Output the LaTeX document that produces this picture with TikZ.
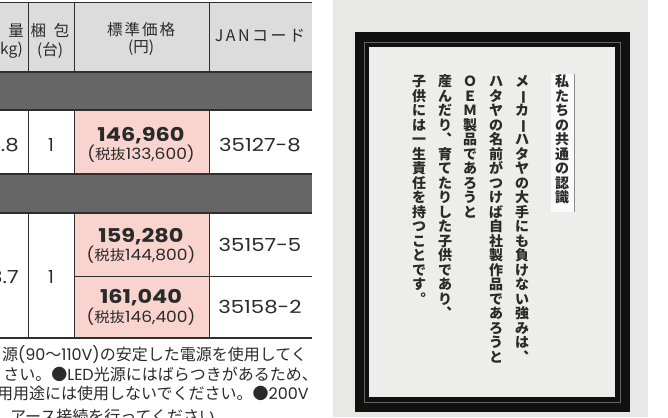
\documentclass[tikz,border=0pt]{standalone}
\usepackage{fontspec}
\newfontfamily\jp{Noto Sans CJK JP}
\newfontfamily\numf{Poppins}
\newfontfamily\vmin{Noto Sans CJK JP}
\definecolor{hdrc}{HTML}{DCDCDD}
\definecolor{bandc}{HTML}{666666}
\definecolor{pinkc}{HTML}{F9D4CF}
\definecolor{linec}{HTML}{2E2E2E}
\definecolor{txtc}{HTML}{2A2A2A}
\definecolor{wallc}{HTML}{E8E8E6}
\definecolor{paperc}{HTML}{EDEDEC}
\definecolor{framec}{HTML}{111111}
\makeatletter
\newcommand\vlong{\rotatebox[origin=c]{-90}{ー}}
\newcommand\vcol[1]{\vbox{\offinterlineskip\@tfor\vc@ch:=#1\do{\hbox to 15pt{\hss\vrule width0pt height11.5pt depth3pt\smash{\vc@ch}\hss}}}}
\makeatother
\newcommand\wide[1]{\scalebox{1.18}[1]{#1}}
\newcommand\lat[1]{{\numf #1}}
\begin{document}
\begin{tikzpicture}[x=1pt,y=-1pt,
  hline/.style={draw=linec,line width=1.4pt},
  thinl/.style={draw=linec,line width=0.9pt},
  hdrtxt/.style={inner sep=0pt,text=txtc,font=\jp\fontsize{15.5}{16}\selectfont},
  valtxt/.style={inner sep=0pt,text=txtc,font=\numf\fontsize{18}{18}\selectfont},
  pricetxt/.style={inner sep=0pt,text=txtc,font=\numf\bfseries\fontsize{19}{19}\selectfont},
  taxtxt/.style={inner sep=0pt,text=txtc,font=\numf\fontsize{15.5}{15.5}\selectfont},
  notetxt/.style={inner sep=0pt,text=txtc,font=\jp\fontsize{16}{16}\selectfont},
  vtxt/.style={inner sep=0pt,anchor=north,text=txtc,font=\vmin\bfseries\fontsize{14}{14}\selectfont}]
\useasboundingbox (0,0) rectangle (668,417);
% ---------------- left: table ----------------
\begin{scope}
\clip (0,0) rectangle (330,417);
\fill[hdrc] (0,2) rectangle (312,72);
\fill[bandc] (0,72) rectangle (312,110);
\fill[bandc] (0,174) rectangle (312,213);
\fill[pinkc] (74,110) rectangle (209,174);
\fill[pinkc] (74,213) rectangle (209,338);
% vertical lines
\foreach \x in {28,74,209}{
  \draw[thinl] (\x,2) -- (\x,72);
  \draw[thinl] (\x,110) -- (\x,174);
  \draw[thinl] (\x,213) -- (\x,338);
}
% horizontal lines
\draw[thinl] (0,2) -- (312,2);
\draw[hline] (0,72) -- (312,72);
\draw[hline] (0,110) -- (312,110);
\draw[hline] (0,174) -- (312,174);
\draw[hline] (0,213) -- (312,213);
\draw[thinl] (74,276) -- (312,276);
\draw[hline] (0,338) -- (312,338);
% header
\node[hdrtxt,anchor=east] (h1a) at (24,31) {質\hspace{10pt}量};
\node[hdrtxt,anchor=east] (h1b) at (23,50) {(kg)};
\node[hdrtxt] (h2a) at (50,31) {梱\hspace{8pt}包};
\node[hdrtxt] (h2b) at (50,50) {(台)};
\node[hdrtxt] (h3a) at (141,30) {標\kern2pt 準\kern2pt 価\kern2pt 格};
\node[hdrtxt] (h3b) at (141,48) {(円)};
\node[hdrtxt,font=\jp\fontsize{16}{16}\selectfont] (h4) at (260,36) {J\kern2.5pt A\kern2.5pt N\kern2.5pt コ\kern2.5pt ー\kern2.5pt ド};
% row 1
\node[valtxt,anchor=east] (r1w) at (19,145) {\wide{3.8}};
\node[valtxt] (r1q) at (51,145) {1};
\node[pricetxt] (r1p) at (141,136) {\wide{146,960}};
\node[taxtxt] (r1t) at (141,154) {\scalebox{1.1}[1]{({\jp\fontsize{14}{14}\selectfont 税抜}133,600)}};
\node[valtxt] (r1j) at (260,145) {\wide{35127-8}};
% row 2
\node[valtxt,anchor=east] (r2w) at (19,277) {\wide{3.7}};
\node[valtxt] (r2q) at (51,277) {1};
\node[pricetxt] (r2p1) at (141,237) {\wide{159,280}};
\node[taxtxt] (r2t1) at (141,255) {\scalebox{1.1}[1]{({\jp\fontsize{14}{14}\selectfont 税抜}144,800)}};
\node[valtxt] (r2j1) at (260,245) {\wide{35157-5}};
\node[pricetxt] (r2p2) at (141,298) {\wide{161,040}};
\node[taxtxt] (r2t2) at (141,317) {\scalebox{1.1}[1]{({\jp\fontsize{14}{14}\selectfont 税抜}146,400)}};
\node[valtxt] (r2j2) at (260,307) {\wide{35158-2}};
% notes
\node[notetxt,anchor=east] (n1) at (307,355) {源\lat{(90}～\lat{110V)}の安定した電源を使用してく};
\node[notetxt,anchor=east] (n2) at (318,374) {さい。●\lat{LED}光源にはばらつきがあるため、};
\node[notetxt,anchor=east] (n3) at (309,393) {用用途には使用しないでください。●\lat{200V}};
\node[notetxt,anchor=west] (n4) at (10,416) {アース接続を行ってください。};
\end{scope}
% ---------------- right: framed sign ----------------
\fill[wallc] (333,0) rectangle (648,417);
\fill[framec] (355,32) rectangle (630,412);
\draw[black!60,line width=0.6pt] (364.5,42.5) rectangle (620.5,402.5);
\fill[paperc] (369,47) rectangle (615,397);
\fill[white!96!gray] (551,74) rectangle (574,212);
\draw[black!45,line width=0.5pt] (574,74) -- (574,212);
\node[vtxt] (t0) at (562,75) {\vcol{私たちの共通の認識}};
\node[vtxt] (t1) at (522,75) {\vcol{メ\vlong カ\vlong ハタヤの大手にも負けない強みは︑}};
\node[vtxt] (t2) at (496,75) {\vcol{ハタヤの名前がつけば自社製作品であろうと}};
\node[vtxt] (t3) at (470,75) {\vcol{ＯＥＭ製品であろうと}};
\node[vtxt] (t4) at (445,75) {\vcol{産んだり︑育てたりした子供であり︑}};
\node[vtxt] (t5) at (419,75) {\vcol{子供には一生責任を持つことです︒}};
\end{tikzpicture}
\end{document}
